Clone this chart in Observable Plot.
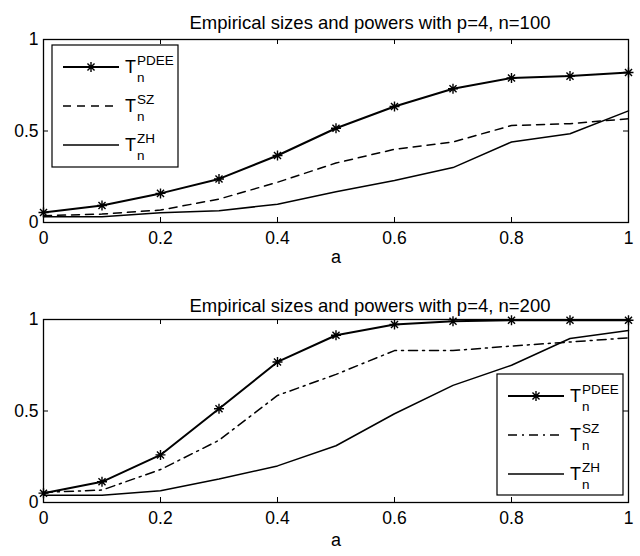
<!DOCTYPE html>
<html><head><meta charset="utf-8">
<script src="https://cdn.jsdelivr.net/npm/d3@7"></script>
<script src="https://cdn.jsdelivr.net/npm/@observablehq/plot@0.6"></script>
<style>
body{margin:0;background:#fff;}
#wrap{position:relative;width:640px;height:556px;font-family:"Liberation Sans",Arial,sans-serif;}
.panel{position:relative;width:640px;height:278px;}
.panel svg.leg{position:absolute;left:0;top:0;pointer-events:none;}
</style></head><body><div id="wrap"></div>
<script>
// ---- data ----
const aValues = [0, 0.1, 0.2, 0.3, 0.4, 0.5, 0.6, 0.7, 0.8, 0.9, 1];
const pdee100 = [0.055, 0.093, 0.159, 0.238, 0.366, 0.515, 0.634, 0.731, 0.790, 0.800, 0.820];
const sz100   = [0.037, 0.046, 0.068, 0.128, 0.220, 0.325, 0.400, 0.440, 0.530, 0.540, 0.567];
const zh100   = [0.031, 0.031, 0.053, 0.064, 0.100, 0.168, 0.229, 0.300, 0.440, 0.485, 0.610];
const pdee200 = [0.051, 0.113, 0.260, 0.512, 0.768, 0.914, 0.973, 0.990, 0.996, 0.996, 0.996];
const sz200   = [0.055, 0.068, 0.180, 0.340, 0.585, 0.700, 0.830, 0.830, 0.855, 0.877, 0.900];
const zh200   = [0.040, 0.040, 0.064, 0.128, 0.200, 0.310, 0.485, 0.640, 0.750, 0.896, 0.940];
const xTicks = [0, 0.2, 0.4, 0.6, 0.8, 1];
const xTickLabels = ["0", "0.2", "0.4", "0.6", "0.8", "1"];
const yTicks = [0, 0.5, 1];
const yTickLabels = ["0", "0.5", "1"];
const titles = ["Empirical sizes and powers with p=4, n=100", "Empirical sizes and powers with p=4, n=200"];
const xLabel = "a";
const seriesSup = ["PDEE", "SZ", "ZH"];
const seriesSub = "n";

const FONT = '"Liberation Sans", Arial, sans-serif';
const star8 = {draw(ctx, size){
  const r = Math.sqrt(size / Math.PI);
  for (let i = 0; i < 4; i++) {
    const a = i * Math.PI / 4, dx = r * Math.cos(a), dy = r * Math.sin(a);
    ctx.moveTo(-dx, -dy); ctx.lineTo(dx, dy);
  }
}};

function panel(cfg) {
  const {height, mt, mb, title, titleDy, xlabDy, pdee, sz, zh, szDash, legend} = cfg;
  const ml = 43, mr = 12, W = 640;
  const rows = aValues.map((a, i) => ({a, pdee: pdee[i], sz: sz[i], zh: zh[i]}));
  const fh = height - mt - mb, fw = W - ml - mr;
  const chart = Plot.plot({
    width: W, height, marginLeft: ml, marginRight: mr, marginTop: mt, marginBottom: mb,
    style: {fontFamily: FONT, fontSize: "17.5px", color: "black", background: "white", overflow: "visible"},
    x: {domain: [0, 1], ticks: xTicks, tickSize: 0, tickPadding: 9, label: null,
        tickFormat: d => xTickLabels[xTicks.indexOf(d)]},
    y: {domain: [0, 1], ticks: yTicks, tickSize: 0, tickPadding: 5, label: null,
        tickFormat: d => yTickLabels[yTicks.indexOf(d)]},
    marks: [
      Plot.frame({stroke: "black", strokeWidth: 1.3}),
      Plot.tickX(xTicks, {x: d => d, insetTop: fh - 5, stroke: "black"}),
      Plot.tickX(xTicks, {x: d => d, insetBottom: fh - 5, stroke: "black"}),
      Plot.tickY(yTicks, {y: d => d, insetRight: fw - 5, stroke: "black"}),
      Plot.tickY(yTicks, {y: d => d, insetLeft: fw - 5, stroke: "black"}),
      Plot.line(rows, {x: "a", y: "zh", stroke: "black", strokeWidth: 1.5}),
      Plot.line(rows, {x: "a", y: "sz", stroke: "black", strokeWidth: 1.5, strokeDasharray: szDash}),
      Plot.line(rows, {x: "a", y: "pdee", stroke: "black", strokeWidth: 2}),
      Plot.dot(rows, {x: "a", y: "pdee", r: 5, symbol: star8, stroke: "black", strokeWidth: 1.4, fill: "none"}),
      Plot.text([title], {text: d => d, frameAnchor: "top", dy: titleDy, dx: 34, fontSize: 18.5, fill: "black"}),
      Plot.text([xLabel], {text: d => d, frameAnchor: "bottom", dy: xlabDy, fontSize: 18, fill: "black"})
    ]
  });
  const div = document.createElement("div");
  div.className = "panel";
  div.appendChild(chart);
  // legend overlay
  const svg = d3.create("svg").attr("class", "leg").attr("width", W).attr("height", height);
  const {x0, y0, w, h} = legend;
  svg.append("rect").attr("x", x0).attr("y", y0).attr("width", w).attr("height", h)
    .attr("fill", "white").attr("stroke", "black").attr("stroke-width", 1.2);
  const dashes = [null, szDash, null];
  const widths = [2, 1.5, 1.5];
  seriesSup.forEach((s, i) => {
    const ry = y0 + 22 + i * 39;
    svg.append("line").attr("x1", x0 + 11).attr("x2", x0 + 67).attr("y1", ry).attr("y2", ry)
      .attr("stroke", "black").attr("stroke-width", widths[i]).attr("stroke-dasharray", dashes[i]);
    if (i === 0) {
      const p = d3.path(); star8.draw(p, 25 * Math.PI);
      svg.append("path").attr("d", p.toString()).attr("transform", `translate(${x0 + 39},${ry})`)
        .attr("stroke", "black").attr("stroke-width", 1.4).attr("fill", "none");
    }
    svg.append("text").attr("font-family", FONT).attr("fill", "black")
      .attr("x", x0 + 73).attr("y", ry + 6).attr("font-size", 18).text("T");
    svg.append("text").attr("font-family", FONT).attr("font-size", 13.5).attr("x", x0 + 85).attr("y", ry - 2).text(s);
    svg.append("text").attr("font-family", FONT).attr("font-size", 13.5).attr("x", x0 + 85).attr("y", ry + 15).text(seriesSub);
  });
  div.appendChild(svg.node());
  return div;
}

const wrap = document.getElementById("wrap");
wrap.appendChild(panel({height: 278, mt: 39, mb: 56, title: titles[0], titleDy: -24, xlabDy: 40,
  pdee: pdee100, sz: sz100, zh: zh100, szDash: "8,6",
  legend: {x0: 52, y0: 45, w: 126, h: 122}}));
wrap.appendChild(panel({height: 278, mt: 41, mb: 54, title: titles[1], titleDy: -21, xlabDy: 43,
  pdee: pdee200, sz: sz200, zh: zh200, szDash: "9,5,2,5",
  legend: {x0: 497, y0: 96, w: 126, h: 121}}));
</script></body></html>
